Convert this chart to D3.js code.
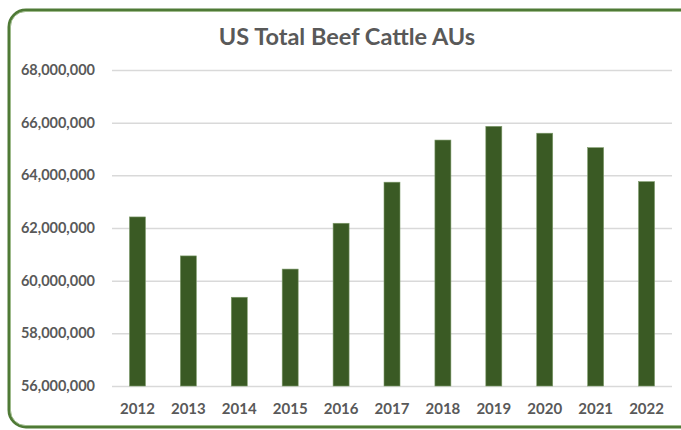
<!DOCTYPE html>
<html>
<head>
<meta charset="utf-8">
<script src="https://cdn.jsdelivr.net/npm/d3@7"></script>
<style>
  body { margin: 0; background: #fff; }
  text { font-family: Lato, "Open Sans", sans-serif; }
</style>
</head>
<body>
<div id="chart"></div>
<script>
// chart data
var years = ["2012", "2013", "2014", "2015", "2016", "2017", "2018", "2019", "2020", "2021", "2022"];
var beefAUs = [62420000, 60940000, 59370000, 60440000, 62180000, 63740000, 65340000, 65860000, 65600000, 65050000, 63760000];
var yTicks = [56000000, 58000000, 60000000, 62000000, 64000000, 66000000, 68000000];
var chartTitle = "US Total Beef Cattle AUs";

var width = 681, height = 430,
    plotLeft = 112, plotRight = 672,
    plotTop = 70, plotBottom = 386,
    barColor = "#3a5a24",
    textColor = "#595959";

var svg = d3.select("#chart").append("svg")
  .attr("width", width)
  .attr("height", height);

// rounded green frame (runs off the right edge like the original)
svg.append("rect")
  .attr("x", 9).attr("y", 10)
  .attr("width", 690).attr("height", 417)
  .attr("rx", 17).attr("ry", 17)
  .attr("fill", "#fff")
  .attr("stroke", "#4f7a36")
  .attr("stroke-width", 3);
svg.append("rect")
  .attr("x", 10.5).attr("y", 11.5)
  .attr("width", 690).attr("height", 414)
  .attr("rx", 15).attr("ry", 15)
  .attr("fill", "none")
  .attr("stroke", "#9fbb8c")
  .attr("stroke-width", 1);

var x = d3.scaleBand()
  .domain(years)
  .range([plotLeft, plotRight])
  .paddingInner(0.686)
  .paddingOuter(0.343);

var y = d3.scaleLinear()
  .domain([56000000, 68000000])
  .range([plotBottom, plotTop]);

// gridlines + y labels via axis
var yAxis = d3.axisLeft(y)
  .tickValues(yTicks)
  .tickSize(-(plotRight - plotLeft))
  .tickPadding(17)
  .tickFormat(d3.format(","));

var gy = svg.append("g")
  .attr("transform", "translate(" + plotLeft + ",0)")
  .call(yAxis);
gy.select(".domain").remove();
gy.selectAll(".tick line")
  .attr("stroke", "#d9d9d9")
  .attr("stroke-width", 1.5);
gy.selectAll(".tick text")
  .attr("fill", textColor)
  .attr("font-size", 14.5)
  .attr("font-weight", "bold");

// bars
svg.append("g").selectAll("rect")
  .data(years)
  .enter().append("rect")
  .attr("x", function (d) { return x(d); })
  .attr("y", function (d, i) { return y(beefAUs[i]); })
  .attr("width", x.bandwidth())
  .attr("height", function (d, i) { return plotBottom - y(beefAUs[i]); })
  .attr("fill", barColor)
  .attr("stroke", "#7d9a6a")
  .attr("stroke-width", 0.6);

// x labels
var xAxis = d3.axisBottom(x).tickSize(0).tickPadding(17);
var gx = svg.append("g")
  .attr("transform", "translate(0," + plotBottom + ")")
  .call(xAxis);
gx.select(".domain").remove();
gx.selectAll(".tick text")
  .attr("fill", textColor)
  .attr("font-size", 15)
  .attr("font-weight", "bold");

// title
svg.append("text")
  .attr("x", 347)
  .attr("y", 45)
  .attr("text-anchor", "middle")
  .attr("fill", textColor)
  .attr("font-size", 23.5)
  .attr("font-weight", "bold")
  .text(chartTitle);
</script>
</body>
</html>
